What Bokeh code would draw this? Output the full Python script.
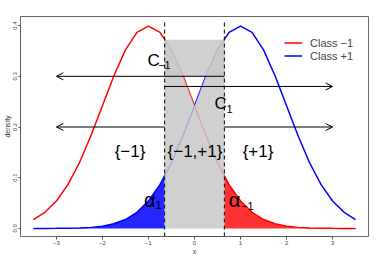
from bokeh.plotting import figure
from bokeh.models import Arrow, OpenHead, FixedTicker, Legend, LegendItem
from bokeh.core.properties import value
from bokeh.embed import file_html
from bokeh.resources import INLINE

# ---- data ----
x_grid = [-3.5, -3.25, -3.0, -2.75, -2.5, -2.25, -2.0, -1.75, -1.5, -1.25,
          -1.0, -0.75, -0.5, -0.25, 0.0, 0.25, 0.5, 0.75, 1.0, 1.25,
          1.5, 1.75, 2.0, 2.25, 2.5, 2.75, 3.0, 3.25, 3.5]
dens_class_neg = [0.0175, 0.0317, 0.0540, 0.0863, 0.1295, 0.1826, 0.2420, 0.3011,
                  0.3521, 0.3867, 0.3989, 0.3867, 0.3521, 0.3011, 0.2420, 0.1826,
                  0.1295, 0.0863, 0.0540, 0.0317, 0.0175, 0.0091, 0.0044, 0.0020,
                  0.0009, 0.0004, 0.0001, 0.0000, 0.0000]
dens_class_pos = [0.0000, 0.0000, 0.0001, 0.0004, 0.0009, 0.0020, 0.0044, 0.0091,
                  0.0175, 0.0317, 0.0540, 0.0863, 0.1295, 0.1826, 0.2420, 0.3011,
                  0.3521, 0.3867, 0.3989, 0.3867, 0.3521, 0.3011, 0.2420, 0.1826,
                  0.1295, 0.0863, 0.0540, 0.0317, 0.0175]

cut = 0.65                      # decision thresholds at -cut and +cut

# blue tail (class +1 density left of -cut)
tail_pos_x = [-3.5, -3.25, -3.0, -2.75, -2.5, -2.25, -2.0, -1.75, -1.5, -1.25,
              -1.0, -0.75, -0.65]
tail_pos_y = [0.0000, 0.0000, 0.0001, 0.0004, 0.0009, 0.0020, 0.0044, 0.0091,
              0.0175, 0.0317, 0.0540, 0.0863, 0.1023]
# red tail (class -1 density right of +cut)
tail_neg_x = [0.65, 0.75, 1.0, 1.25, 1.5, 1.75, 2.0, 2.25, 2.5, 2.75, 3.0, 3.25, 3.5]
tail_neg_y = [0.1023, 0.0863, 0.0540, 0.0317, 0.0175, 0.0091, 0.0044, 0.0020,
              0.0009, 0.0004, 0.0001, 0.0000, 0.0000]

# gray ambiguous region envelope
mid_x = [-0.65, -0.5, -0.25, 0.0, 0.25, 0.5, 0.65]
mid_top = [0.375, 0.3521, 0.3011, 0.2420, 0.3011, 0.3521, 0.375]
mid_band = (0.30, 0.372)

# arrows (start x, end x, y)
arrow_x0 = [0.65, -0.65, -0.65, 0.65]
arrow_x1 = [-3.0, 3.0, -3.0, 3.0]
arrow_y = [0.30, 0.28, 0.20, 0.20]

x_ticks = [-3, -2, -1, 0, 1, 2, 3]
y_ticks = [0.0, 0.1, 0.2, 0.3, 0.4]
y_tick_labels = ["0.0", "0.1", "0.2", "0.3", "0.4"]
legend_labels = ["Class \u22121", "Class +1"]

FONT = "Liberation Sans"

p = figure(width=372, height=257, output_backend="svg", toolbar_location=None,
           x_range=(-3.78, 3.78), y_range=(-0.016, 0.418),
           min_border_left=15, min_border_right=4, min_border_top=16,
           min_border_bottom=20)
p.background_fill_color = "white"
p.border_fill_color = "white"
p.grid.visible = False
p.outline_line_color = "#666666"
p.outline_line_width = 1

for ax in (p.xaxis[0], p.yaxis[0]):
    ax.axis_line_color = "#555555"
    ax.major_tick_line_color = "#555555"
    ax.major_tick_in = 0
    ax.major_tick_out = 3
    ax.minor_tick_line_color = None
    ax.major_label_text_font = FONT
    ax.major_label_text_font_size = "6px"
    ax.major_label_text_color = "#444444"
    ax.axis_label_text_font = FONT
    ax.axis_label_text_font_size = "7px"
    ax.axis_label_text_font_style = "normal"
    ax.axis_label_text_color = "#333333"
    ax.major_label_standoff = 1
    ax.axis_label_standoff = 0

p.xaxis.ticker = FixedTicker(ticks=x_ticks)
p.xaxis.bounds = (-3, 3)
p.xaxis.axis_label = "x"
p.yaxis.ticker = FixedTicker(ticks=y_ticks)
p.yaxis.bounds = (0, 0.4)
p.yaxis.major_label_overrides = {t: l for t, l in zip(y_ticks, y_tick_labels)}
p.yaxis.major_label_orientation = "vertical"
p.yaxis.axis_label = "density"
p.yaxis[0].major_tick_out = 2

# tails
p.varea(x=tail_pos_x, y1=0, y2=tail_pos_y, fill_color="#0000ff", fill_alpha=0.85)
p.varea(x=tail_neg_x, y1=0, y2=tail_neg_y, fill_color="#ff0000", fill_alpha=0.8)

# curves
r_neg = p.line(x_grid, dens_class_neg, line_color="#ff0000", line_width=1.5)
r_pos = p.line(x_grid, dens_class_pos, line_color="#0000ff", line_width=1.5)

# gray ambiguous region
p.varea(x=mid_x, y1=0, y2=mid_top, fill_color="#c8c8c8", fill_alpha=0.85)
p.quad(left=[-cut], right=[cut], bottom=[mid_band[0]], top=[mid_band[1]],
       fill_color="#c8c8c8", fill_alpha=0.85, line_color=None)

# dashed thresholds
p.segment(x0=[-cut, cut], y0=[-0.016, -0.016], x1=[-cut, cut], y1=[0.41, 0.41],
          line_color="#222222", line_width=1.2, line_dash="4 3")

# arrows
for x0, x1, yy in zip(arrow_x0, arrow_x1, arrow_y):
    p.add_layout(Arrow(end=OpenHead(size=7, line_width=1, line_color="black"),
                       x_start=x0, y_start=yy, x_end=x1, y_end=yy,
                       line_color="black", line_width=1))

# labels
def label(x, y, t, size):
    p.text(x=[x], y=[y], text=[t], text_font=value(FONT),
           text_font_size=size, text_align="center", text_baseline="middle",
           text_color="black")

label(-0.889, 0.332, "C", "17px")
label(-0.653, 0.322, "\u22121", "11px")
label(0.567, 0.247, "C", "17px")
label(0.76, 0.235, "1", "11px")
label(-1.40, 0.151, "{\u22121}", "17px")
label(0.01, 0.151, "{\u22121,+1}", "17px")
label(1.38, 0.151, "{+1}", "17px")
label(-0.974, 0.056, "\u03b1", "20px")
label(-0.78, 0.046, "1", "11px")
label(0.867, 0.056, "\u03b1", "20px")
label(1.146, 0.044, "\u22121", "11px")

legend = Legend(items=[LegendItem(label=legend_labels[0], renderers=[r_neg]),
                       LegendItem(label=legend_labels[1], renderers=[r_pos])],
                location=(264, 174))
legend.border_line_color = None
legend.background_fill_alpha = 0
legend.label_text_font = FONT
legend.label_text_font_size = "11px"
legend.glyph_width = 18
legend.glyph_height = 13
legend.label_height = 13
legend.spacing = 0
legend.padding = 0
legend.margin = 0
legend.label_standoff = 8
p.add_layout(legend)

open("out.html", "w").write(file_html(p, INLINE))
